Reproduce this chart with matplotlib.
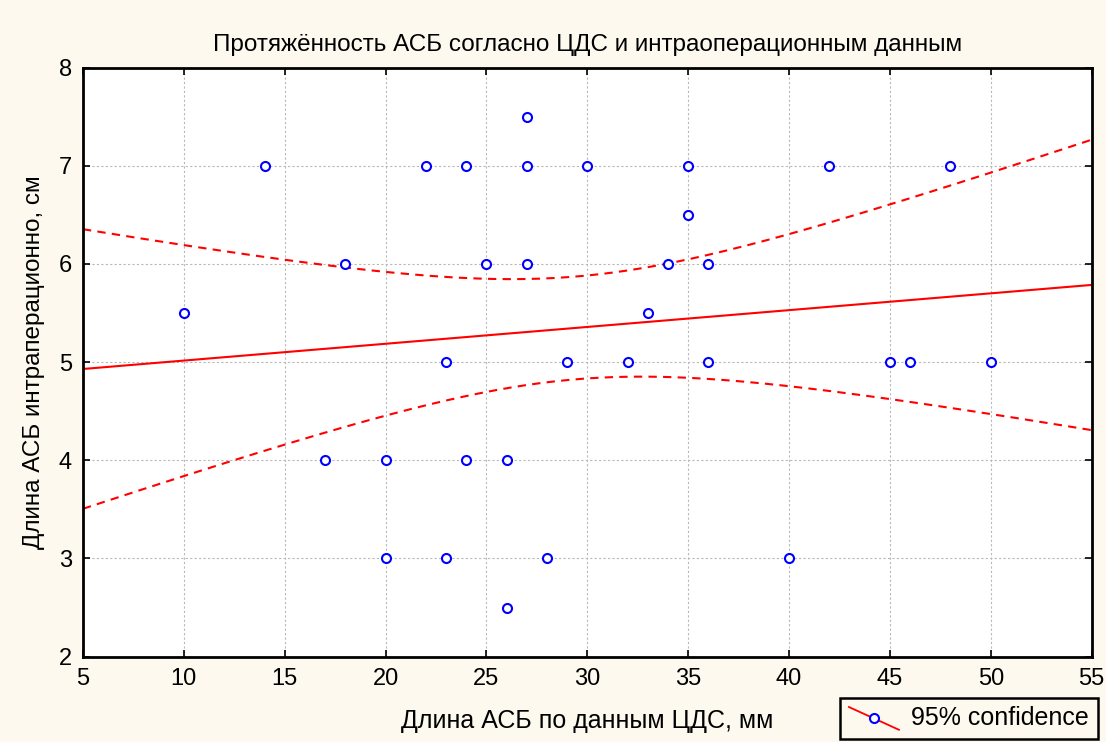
import numpy as np
import matplotlib
matplotlib.use("Agg")
import matplotlib.pyplot as plt
from matplotlib.lines import Line2D
from matplotlib.legend_handler import HandlerLine2D

plt.rcParams['font.family'] = ['Liberation Sans', 'DejaVu Sans']

# data
cds_mm = [10, 14, 17, 18, 20, 20, 22, 23, 23, 24, 24, 25, 26, 26, 27, 27, 27,
          28, 29, 30, 32, 33, 34, 35, 35, 36, 36, 40, 42, 45, 46, 48, 50]
intraop_cm = [5.5, 7, 4, 6, 4, 3, 7, 5, 3, 7, 4, 6, 4, 2.5, 7.5, 7, 6,
              3, 5, 7, 5, 5.5, 6, 7, 6.5, 6, 5, 3, 7, 5, 5, 7, 5]
x_ticks = [5, 10, 15, 20, 25, 30, 35, 40, 45, 50, 55]
y_ticks = [2, 3, 4, 5, 6, 7, 8]

title = "Протяжённость АСБ согласно ЦДС и интраоперационным данным"
xlabel = "Длина АСБ по данным ЦДС, мм"
ylabel = "Длина АСБ интраперационно, см"

BG = '#fdf9ef'

x = np.array(cds_mm, dtype=float)
y = np.array(intraop_cm, dtype=float)
n = len(x)

# linear fit and 95% confidence band for the mean
b, a = np.polyfit(x, y, 1)
resid = y - (a + b * x)
s = np.sqrt(np.sum(resid ** 2) / (n - 2))
t_crit = 2.0395  # t(0.975, df=31)
xs = np.linspace(x_ticks[0], x_ticks[-1], 200)
fit = a + b * xs
half = t_crit * s * np.sqrt(1.0 / n + (xs - x.mean()) ** 2 / np.sum((x - x.mean()) ** 2))


class DiagHandler(HandlerLine2D):
    def create_artists(self, legend, orig_handle, xdescent, ydescent, width, height, fontsize, trans):
        ln = Line2D([-xdescent, -xdescent + width], [-ydescent + height * 1.05, -ydescent - height * 0.25],
                    color='red', lw=1.3, transform=trans)
        mk = Line2D([-xdescent + width * 0.5], [-ydescent + height * 0.4], marker='o', ls='none',
                    mfc='white', mec='blue', mew=1.5, ms=6.5, transform=trans)
        return [ln, mk]


fig = plt.figure(figsize=(11.06, 7.42), dpi=100, facecolor=BG)
ax = fig.add_axes([0.075, 0.115, 0.912, 0.794])
ax.set_facecolor('white')

ax.plot(xs, fit, color='red', lw=1.5)
ax.plot(xs, fit + half, color='red', lw=1.5, ls=(0, (4, 3)))
ax.plot(xs, fit - half, color='red', lw=1.5, ls=(0, (4, 3)))
pts = ax.plot(x, y, 'o', ls='none', mfc='white', mec='blue', mew=1.5, ms=6.5, zorder=5)[0]

ax.set_xlim(x_ticks[0], x_ticks[-1])
ax.set_ylim(y_ticks[0], y_ticks[-1])
ax.set_xticks(x_ticks)
ax.set_yticks(y_ticks)
ax.grid(True, color='#b8b8b8', ls=(0, (2, 2)), lw=0.8)
ax.tick_params(direction='in', top=True, right=True, length=5, width=1.2,
               labelsize=17, pad=8)
for sp in ax.spines.values():
    sp.set_linewidth(2)

ax.set_title(title, fontsize=17.5, pad=12)
ax.set_xlabel(xlabel, fontsize=18, labelpad=14)
ax.set_ylabel(ylabel, fontsize=17.5, labelpad=10)

leg = fig.legend([pts], ['95% confidence'], handler_map={pts: DiagHandler()},
                 loc='lower right', bbox_to_anchor=(1.004, -0.013), fontsize=18,
                 fancybox=False, edgecolor='black', facecolor=BG, framealpha=1,
                 handlelength=2.0, borderpad=0.35, handletextpad=0.5)
leg.get_frame().set_linewidth(1.8)

fig.savefig('out.png', dpi=100, facecolor=BG)
